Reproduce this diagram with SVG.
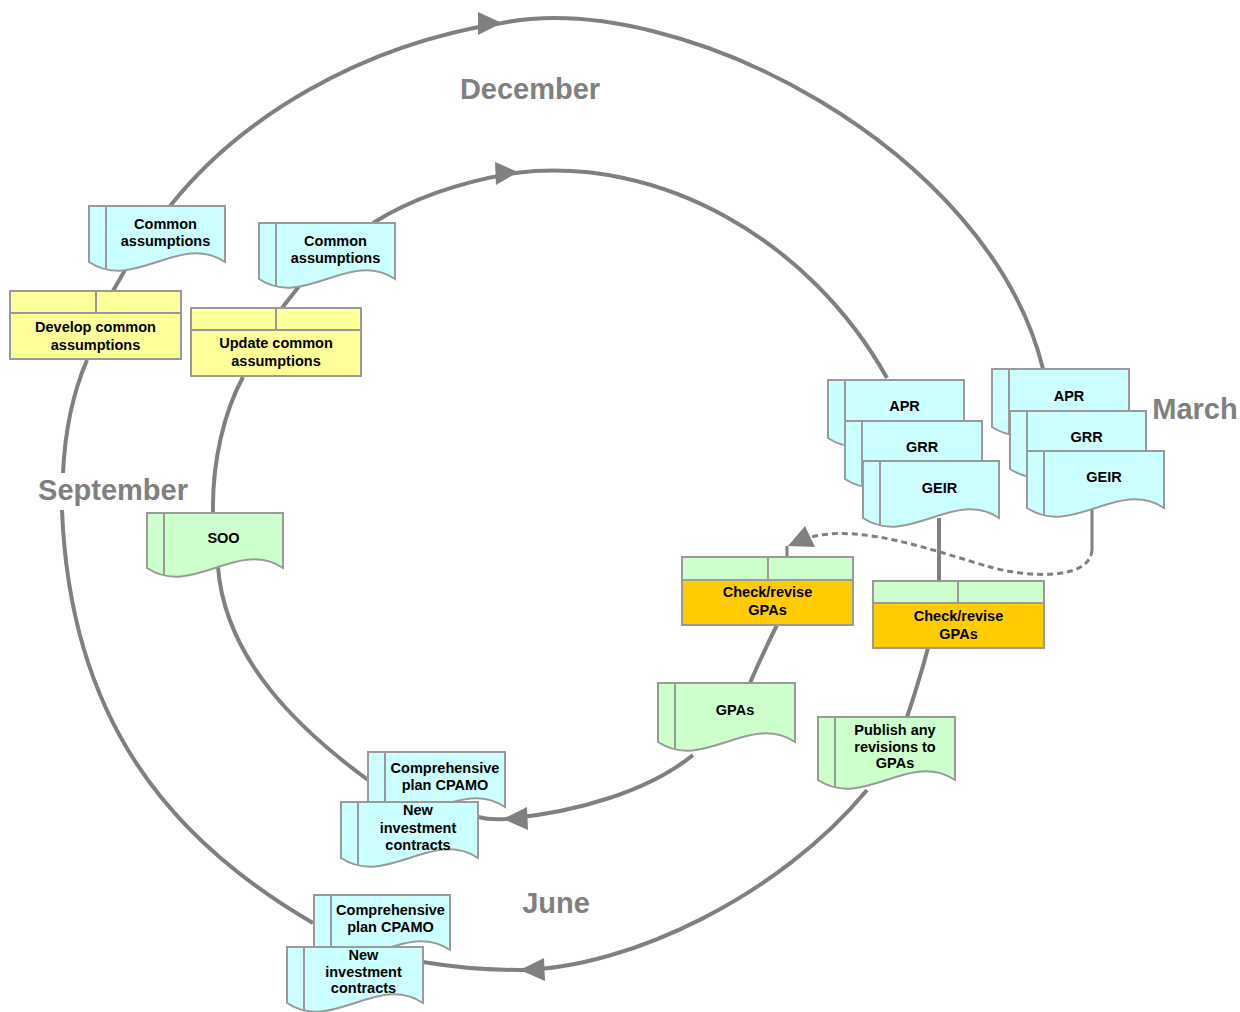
<svg xmlns="http://www.w3.org/2000/svg" width="1240" height="1012" viewBox="0 0 1240 1012">
<style>
.bg{fill:#ffffff}
.con{fill:none;stroke:#808080;stroke-width:4}
.dash{fill:none;stroke:#808080;stroke-width:3;stroke-dasharray:6,4}
.ah{fill:#808080;stroke:none}
.sh{stroke:#9a9a9a;stroke-width:2}
.ln{fill:none;stroke:#9a9a9a;stroke-width:2}
.cyan{fill:#CCFFFF}
.green{fill:#CCFFCC}
.yellow{fill:#FFFF99}
.orange{fill:#FFCC00}
text{font-family:"Liberation Sans",Arial,sans-serif;font-weight:bold;text-anchor:middle}
.t{font-size:14.5px;fill:#000000}
.m{font-size:29px;fill:#808080}
</style>
<rect class="bg" x="0" y="0" width="1240" height="1012"/>

<g id="connectors">
  <path class="con" d="M170,206 C240,118 360,45 502,23 C680,-12 990,150 1043,369"/>
  <path class="con" d="M1092,509 V550" style="stroke-width:3"/>
  <path class="dash" d="M1092,550 C1090,580 1030,578 990,567 C940,553 860,522 808,538"/>
  <polygon class="ah" points="788,546 805,526 815,547"/>
  <path class="con" d="M787,546 V557" style="stroke-width:3"/>
  <path class="con" d="M777,625 Q762,655 750,683"/>
  <path class="con" d="M693,755 C650,790 580,812 505,819 Q490,820 478,817"/>
  <path class="con" d="M368,780 C300,730 225,660 218,567"/>
  <path class="con" d="M213,513 C212,460 225,410 243,377"/>
  <path class="con" d="M282,308 L300,285"/>
  <path class="con" d="M373,223 C410,200 460,182 515,173 C660,155 810,240 887,378"/>
  <path class="con" d="M939,518 V581"/>
  <path class="con" d="M928,648 Q918,685 907,717"/>
  <path class="con" d="M867,790 C780,895 630,968 521,970 Q470,970 423,962"/>
  <path class="con" d="M313,923 C170,840 70,720 62,510"/>
  <path class="con" d="M63,473 C65,430 72,395 87,360"/>
  <path class="con" d="M113,291 L125,270"/>
  <polygon class="ah" points="502,23 478,12 478,35"/>
  <polygon class="ah" points="518,172 495,162 496,185"/>
  <polygon class="ah" points="503,819 527,807 528,830"/>
  <polygon class="ah" points="520,970 544,958 545,981"/>
</g>

<g id="months">
  <text class="m" x="530" y="99">December</text>
  <text class="m" x="1195" y="419">March</text>
  <text class="m" x="113" y="500">September</text>
  <text class="m" x="556" y="913">June</text>
</g>

<g id="common-outer">
  <path class="sh cyan" d="M89,206 H225 V262 C179.7,232 134.3,292 89,262 Z"/>
  <path class="ln" d="M106,206 V269"/>
  <text class="t" x="165.5" y="229">Common</text>
  <text class="t" x="165.5" y="246">assumptions</text>
</g>
<g id="common-inner">
  <path class="sh cyan" d="M259,223 H395 V279 C349.7,249 304.3,309 259,279 Z"/>
  <path class="ln" d="M276,223 V286"/>
  <text class="t" x="335.5" y="246">Common</text>
  <text class="t" x="335.5" y="263">assumptions</text>
</g>
<g id="develop">
  <rect class="sh yellow" x="10" y="291" width="171" height="68"/>
  <path class="ln" d="M10,313 H181 M96,291 V313"/>
  <text class="t" x="95.5" y="332">Develop common</text>
  <text class="t" x="95.5" y="350">assumptions</text>
</g>
<g id="update">
  <rect class="sh yellow" x="191" y="308" width="170" height="68"/>
  <path class="ln" d="M191,330 H361 M276,308 V330"/>
  <text class="t" x="276" y="348">Update common</text>
  <text class="t" x="276" y="366">assumptions</text>
</g>
<g id="soo">
  <path class="sh green" d="M147,513 H283 V568 C237.7,538 192.3,598 147,568 Z"/>
  <path class="ln" d="M164,513 V575"/>
  <text class="t" x="223.5" y="543">SOO</text>
</g>
<g id="inner-apr">
  <path class="sh cyan" d="M828,380 H964 V438 C918.7,408 873.3,468 828,438 Z"/>
  <path class="ln" d="M845,380 V445"/>
  <text class="t" x="904.5" y="411">APR</text>
</g>
<g id="inner-grr">
  <path class="sh cyan" d="M845,421 H982 V479 C936.3,449 890.7,509 845,479 Z"/>
  <path class="ln" d="M862,421 V486"/>
  <text class="t" x="922" y="452">GRR</text>
</g>
<g id="inner-geir">
  <path class="sh cyan" d="M863,461 H999 V518 C953.7,488 908.3,548 863,518 Z"/>
  <path class="ln" d="M880,461 V525"/>
  <text class="t" x="939.5" y="493">GEIR</text>
</g>
<g id="outer-apr">
  <path class="sh cyan" d="M992,369 H1129 V427 C1083.3,397 1037.7,457 992,427 Z"/>
  <path class="ln" d="M1009,369 V434"/>
  <text class="t" x="1069" y="401">APR</text>
</g>
<g id="outer-grr">
  <path class="sh cyan" d="M1010,411 H1146 V469 C1100.7,439 1055.3,499 1010,469 Z"/>
  <path class="ln" d="M1027,411 V476"/>
  <text class="t" x="1086.5" y="442">GRR</text>
</g>
<g id="outer-geir">
  <path class="sh cyan" d="M1027,451 H1164 V508 C1118.3,478 1072.7,538 1027,508 Z"/>
  <path class="ln" d="M1044,451 V515"/>
  <text class="t" x="1104" y="482">GEIR</text>
</g>
<g id="check-left">
  <rect class="sh orange" x="682" y="557" width="171" height="68"/>
  <rect class="sh green" x="682" y="557" width="171" height="23"/>
  <path class="ln" d="M768,557 V580"/>
  <text class="t" x="767.5" y="597">Check/revise</text>
  <text class="t" x="767.5" y="615">GPAs</text>
</g>
<g id="check-right">
  <rect class="sh orange" x="873" y="581" width="171" height="67"/>
  <rect class="sh green" x="873" y="581" width="171" height="22"/>
  <path class="ln" d="M958,581 V603"/>
  <text class="t" x="958.5" y="621">Check/revise</text>
  <text class="t" x="958.5" y="639">GPAs</text>
</g>
<g id="gpas">
  <path class="sh green" d="M658,683 H795 V742 C749.3,712 703.7,772 658,742 Z"/>
  <path class="ln" d="M675,683 V749"/>
  <text class="t" x="735" y="715">GPAs</text>
</g>
<g id="publish">
  <path class="sh green" d="M818,717 H955 V780 C909.3,750 863.7,810 818,780 Z"/>
  <path class="ln" d="M835,717 V787"/>
  <text class="t" x="895" y="735">Publish any</text>
  <text class="t" x="895" y="751.5">revisions to</text>
  <text class="t" x="895" y="768">GPAs</text>
</g>
<g id="comp-inner">
  <path class="sh cyan" d="M368,752 H505 V807 C459.3,777 413.7,837 368,807 Z"/>
  <path class="ln" d="M385,752 V814"/>
  <text class="t" x="445" y="773">Comprehensive</text>
  <text class="t" x="445" y="790">plan CPAMO</text>
</g>
<g id="newinv-inner">
  <path class="sh cyan" d="M341,802 H478 V858 C432.3,828 386.7,888 341,858 Z"/>
  <path class="ln" d="M358,802 V865"/>
  <text class="t" x="418" y="815">New</text>
  <text class="t" x="418" y="833">investment</text>
  <text class="t" x="418" y="850">contracts</text>
</g>
<g id="comp-outer">
  <path class="sh cyan" d="M314,895 H450 V950 C404.7,920 359.3,980 314,950 Z"/>
  <path class="ln" d="M331,895 V957"/>
  <text class="t" x="390.5" y="915">Comprehensive</text>
  <text class="t" x="390.5" y="932">plan CPAMO</text>
</g>
<g id="newinv-outer">
  <path class="sh cyan" d="M287,947 H423 V1003 C377.7,973 332.3,1033 287,1003 Z"/>
  <path class="ln" d="M304,947 V1010"/>
  <text class="t" x="363.5" y="960">New</text>
  <text class="t" x="363.5" y="977">investment</text>
  <text class="t" x="363.5" y="993">contracts</text>
</g>
</svg>
